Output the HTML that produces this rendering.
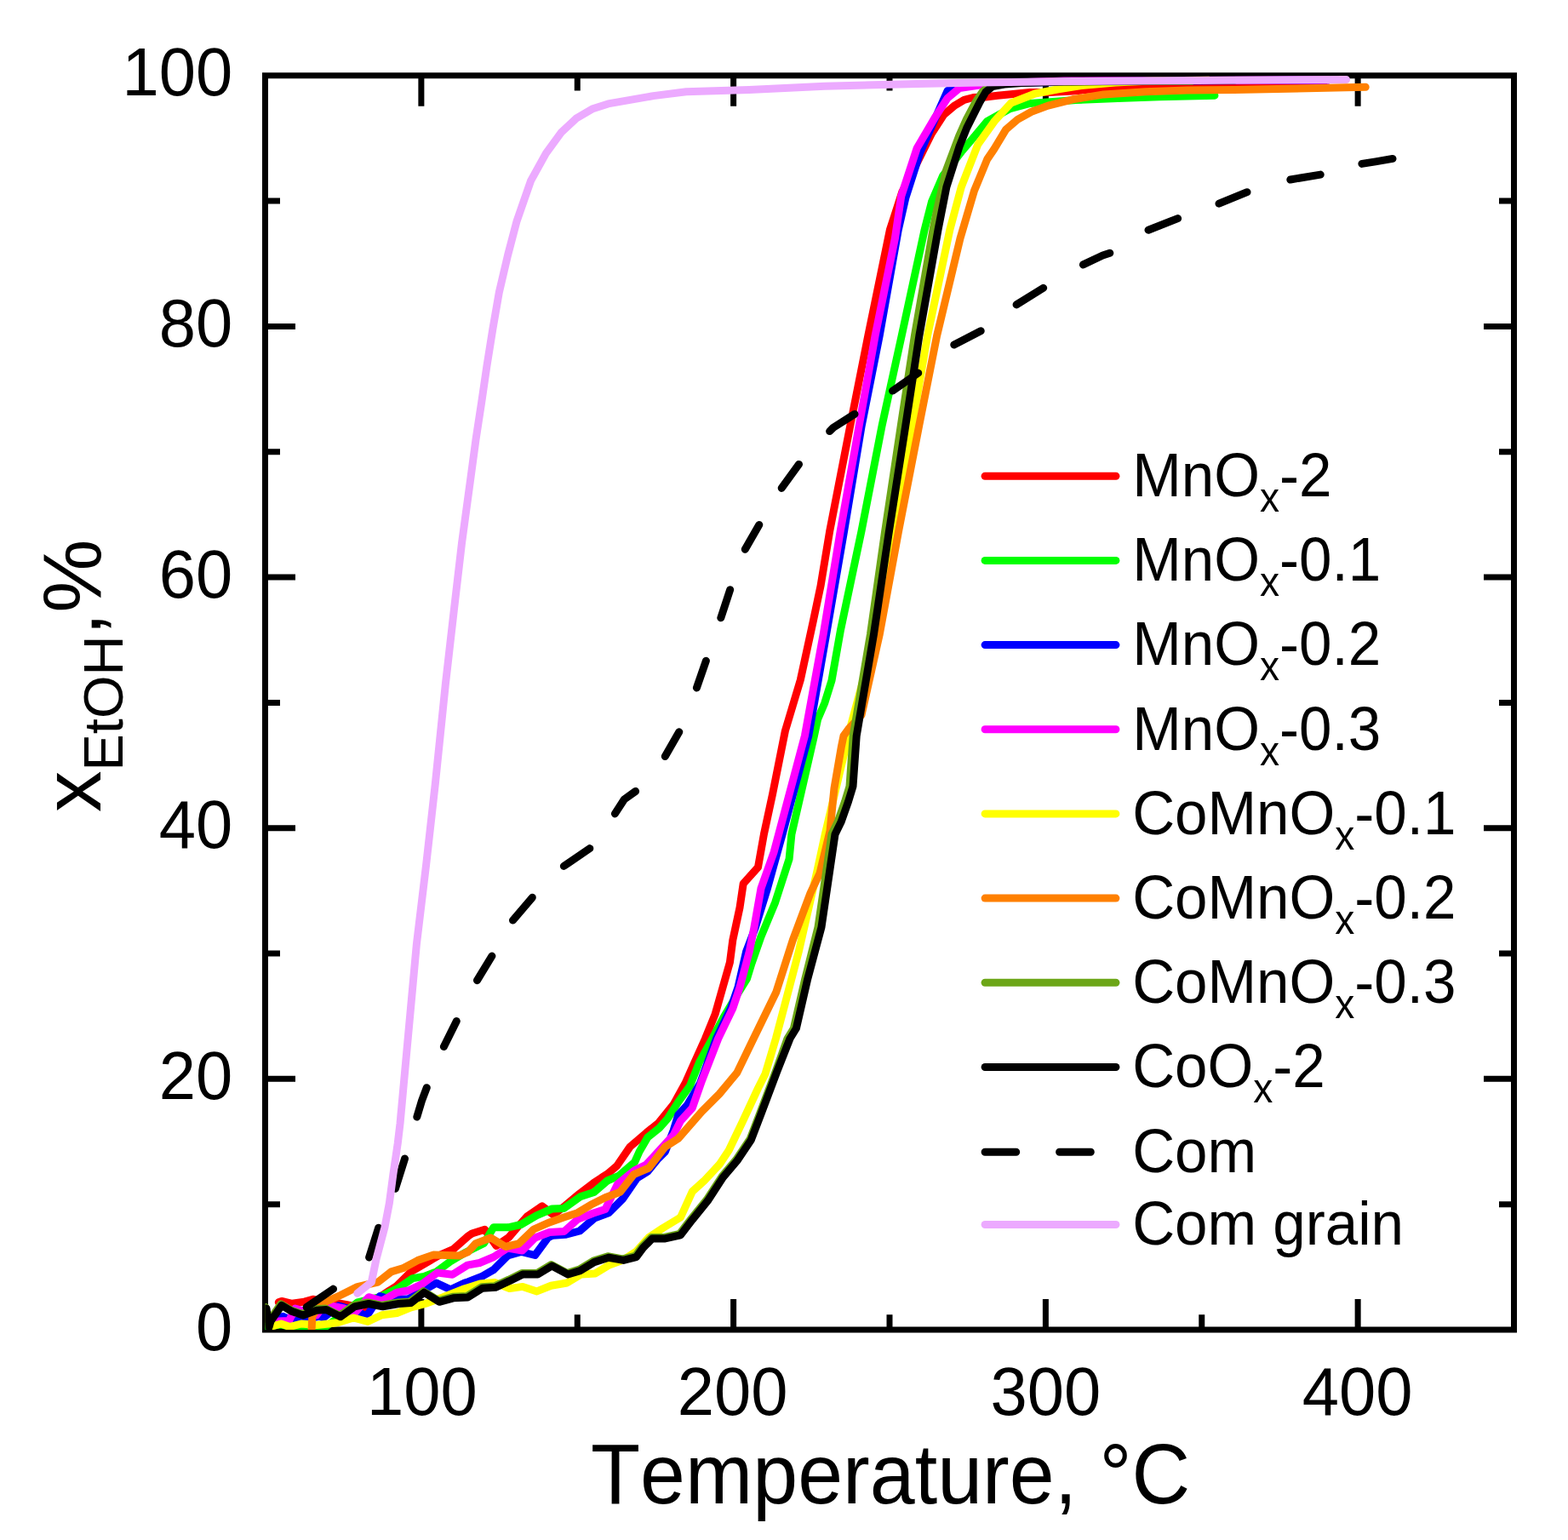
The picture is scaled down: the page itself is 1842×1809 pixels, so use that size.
<!DOCTYPE html><html><head><meta charset="utf-8"><title>Ethanol conversion vs temperature</title>
<style>html,body{margin:0;padding:0;background:#fff;}body{width:1842px;height:1809px;overflow:hidden;}svg{display:block;}text{font-family:"Liberation Sans",Arial,sans-serif;fill:#000;}</style></head><body>
<svg xmlns="http://www.w3.org/2000/svg" width="1842" height="1809" viewBox="0 0 1842 1809">
<rect x="0" y="0" width="1842" height="1809" fill="#fff"/>
<g stroke="#000" stroke-width="7" fill="none" stroke-linecap="butt">
<rect x="311.5" y="88.75" width="1467.0" height="1473.25" stroke-linejoin="miter"/>
<path d="M311.5,1414.67H329.0M1778.5,1414.67H1761.0M311.5,1267.35H347.0M1778.5,1267.35H1743.0M311.5,1120.03H329.0M1778.5,1120.03H1761.0M311.5,972.70H347.0M1778.5,972.70H1743.0M311.5,825.38H329.0M1778.5,825.38H1761.0M311.5,678.05H347.0M1778.5,678.05H1743.0M311.5,530.72H329.0M1778.5,530.72H1761.0M311.5,383.40H347.0M1778.5,383.40H1743.0M311.5,236.08H329.0M1778.5,236.08H1761.0M494.88,1562.0V1526.0M494.88,88.75V124.75M678.25,1562.0V1544.2M678.25,88.75V106.55M861.62,1562.0V1526.0M861.62,88.75V124.75M1045.00,1562.0V1544.2M1045.00,88.75V106.55M1228.38,1562.0V1526.0M1228.38,88.75V124.75M1411.75,1562.0V1544.2M1411.75,88.75V106.55M1595.12,1562.0V1526.0M1595.12,88.75V124.75"/>
</g>
<defs><clipPath id="pc"><rect x="311.5" y="88.75" width="1467.0" height="1473.25"/></clipPath></defs>
<g clip-path="url(#pc)" fill="none" stroke-width="9" stroke-linecap="round" stroke-linejoin="round">
<polyline stroke="#ff0000" points="327.3,1529.8 330.9,1528.4 343.1,1531.3 357.5,1529.1 368.3,1526.2 380.0,1530.4 388.8,1529.3 407.6,1532.6 426.4,1537.0 457.4,1516.0 466.2,1510.5 482.8,1493.9 496.1,1486.1 514.9,1475.1 532.6,1467.3 550.0,1452.0 554.4,1449.0 569.5,1444.3 583.0,1463.5 597.7,1453.5 609.9,1439.3 619.8,1428.4 636.9,1416.8 650.0,1426.8 664.0,1416.3 681.0,1402.0 697.4,1389.6 706.7,1383.4 713.8,1378.9 724.9,1369.3 740.1,1347.1 759.4,1330.6 773.2,1319.5 791.2,1297.4 805.0,1272.5 816.1,1247.6 828.5,1220.0 840.1,1191.4 857.4,1130.6 860.8,1104.4 869.1,1065.7 873.2,1038.0 890.5,1018.7 897.4,980.0 907.5,933.1 922.4,858.5 940.3,798.8 955.2,730.1 964.0,688.4 974.6,624.4 998.8,500.0 1019.8,394.4 1045.4,270.0 1060.0,225.0 1078.0,190.0 1094.5,156.7 1108.7,134.7 1121.7,123.8 1132.6,117.3 1143.4,114.5 1157.5,114.0 1172.0,112.2 1190.0,110.5 1210.0,108.6 1233.0,108.5 1260.0,107.0 1300.0,103.3 1357.0,98.8 1460.0,97.2 1555.0,96.8"/>
<polyline stroke="#00ff00" points="313.0,1558.0 330.0,1556.0 356.0,1561.0 379.0,1561.0 393.4,1550.7 420.0,1529.8 445.0,1524.0 468.4,1512.7 485.0,1501.6 498.3,1499.4 512.7,1493.9 529.3,1481.7 545.8,1471.8 568.5,1460.5 579.9,1441.7 597.0,1441.8 612.0,1438.5 630.2,1427.8 648.5,1420.0 662.2,1419.5 681.5,1405.8 697.7,1400.5 713.4,1387.0 727.0,1381.2 745.6,1365.1 751.1,1352.7 760.8,1336.1 774.6,1325.0 784.3,1314.0 796.7,1294.6 810.6,1275.3 821.6,1247.6 836.8,1220.0 850.0,1195.0 865.0,1170.0 877.4,1150.0 882.9,1132.0 894.0,1100.2 910.6,1060.2 927.1,1009.0 929.9,980.0 956.4,864.4 960.6,845.0 968.8,825.7 977.0,799.4 987.5,740.0 1011.9,624.4 1036.1,500.0 1059.2,394.4 1086.1,270.0 1094.5,237.0 1107.6,206.6 1129.3,178.4 1142.3,163.2 1159.7,142.5 1185.7,128.0 1210.0,121.5 1264.0,117.5 1312.9,115.5 1361.7,113.8 1426.9,112.2"/>
<polyline stroke="#0000ff" points="320.0,1552.0 332.3,1546.3 344.6,1552.1 360.0,1549.0 375.4,1546.3 380.0,1548.0 397.7,1533.7 415.4,1539.0 430.9,1545.8 446.3,1522.6 457.4,1525.9 479.5,1525.9 497.2,1516.0 512.7,1507.1 529.3,1514.9 545.8,1507.1 550.0,1505.8 566.6,1499.2 579.9,1491.5 596.4,1475.0 612.3,1470.5 628.5,1474.5 644.0,1453.5 649.7,1451.2 664.0,1450.3 681.0,1446.0 698.2,1431.0 715.0,1424.7 731.8,1408.0 748.3,1384.0 760.8,1376.2 773.2,1361.0 781.5,1352.7 791.2,1327.8 796.7,1309.8 807.8,1297.4 822.5,1272.5 841.5,1220.0 858.5,1184.5 867.0,1159.7 876.5,1118.2 887.2,1090.0 901.1,1045.0 919.1,980.0 949.8,864.4 970.7,745.0 991.5,624.4 1012.2,500.0 1033.2,394.4 1055.3,270.0 1063.8,232.7 1081.2,178.4 1113.0,106.7 1118.4,103.5 1160.0,98.0 1300.0,95.5 1560.0,94.0"/>
<polyline stroke="#ff00ff" points="326.6,1552.1 339.5,1551.4 346.7,1537.0 360.0,1541.0 371.9,1544.9 380.0,1533.7 386.2,1533.4 404.2,1537.0 416.5,1542.5 433.1,1523.7 448.5,1528.1 466.2,1518.2 479.5,1516.0 496.1,1508.2 513.8,1495.0 531.5,1497.2 549.2,1486.1 563.4,1483.5 580.0,1476.5 596.4,1466.0 613.5,1469.0 628.5,1454.0 645.5,1447.5 662.7,1446.5 679.0,1432.0 696.5,1425.2 711.0,1420.5 725.5,1391.0 737.2,1381.6 745.6,1374.8 759.4,1367.9 774.6,1351.3 791.2,1333.3 799.5,1316.7 813.3,1301.5 824.4,1269.8 843.7,1220.0 860.8,1184.5 869.1,1159.7 880.2,1118.2 885.7,1090.6 894.0,1043.6 909.2,1000.7 914.7,980.0 945.4,864.4 967.2,745.0 987.1,624.4 1009.2,500.0 1028.1,394.4 1051.4,280.0 1058.7,230.5 1077.2,174.0 1098.9,137.1 1113.0,115.4 1127.1,103.5 1164.0,98.0 1250.0,95.0 1560.0,94.0"/>
<polyline stroke="#ffff00" points="320.1,1557.8 330.2,1555.0 340.2,1558.6 353.9,1555.0 371.9,1556.4 386.2,1555.0 396.6,1553.6 415.2,1548.0 432.0,1552.5 448.5,1544.7 466.2,1542.5 482.8,1535.9 499.4,1531.5 520.0,1524.0 545.8,1513.8 550.0,1512.5 564.0,1508.0 581.0,1506.5 598.6,1513.6 614.1,1511.4 630.7,1516.9 647.3,1510.3 666.1,1507.0 682.7,1497.0 699.3,1495.9 715.8,1485.9 732.2,1480.0 747.5,1470.0 762.2,1453.6 778.8,1442.5 799.5,1430.0 813.3,1399.7 827.1,1387.2 845.1,1367.9 856.2,1351.3 872.7,1316.7 890.7,1278.0 899.0,1261.5 911.4,1220.0 923.0,1176.2 938.2,1118.2 960.3,1021.5 969.3,980.0 999.3,853.3 1030.0,740.0 1051.3,624.4 1071.4,500.0 1089.6,394.4 1115.8,270.0 1129.3,219.6 1148.8,169.7 1168.8,141.7 1187.7,121.0 1187.7,121.0 1216.0,110.0 1242.0,105.0 1270.0,100.5 1310.0,97.0 1357.0,94.8 1420.0,94.3"/>
<polyline stroke="#ff8000" points="366.1,1562.2 366.8,1546.3 375.4,1532.7 380.0,1530.5 399.9,1521.5 419.8,1511.6 444.1,1506.0 459.6,1493.9 474.0,1489.5 490.6,1480.6 509.4,1474.0 539.2,1475.1 550.0,1470.5 558.9,1460.6 576.6,1454.0 594.0,1464.5 609.3,1461.0 627.0,1444.0 646.0,1435.7 662.2,1430.0 678.5,1424.7 694.0,1415.3 711.0,1406.8 728.5,1400.2 744.4,1379.7 762.2,1372.0 781.5,1347.1 796.7,1337.5 824.4,1305.7 845.1,1285.0 865.8,1260.1 885.2,1220.0 911.9,1165.2 931.3,1104.4 952.0,1049.1 963.1,1025.6 975.0,976.0 979.9,926.6 988.2,878.2 991.0,864.4 997.0,856.0 1012.0,840.0 1033.3,745.0 1055.5,624.4 1079.7,500.0 1100.6,394.4 1128.0,280.0 1144.5,224.0 1159.7,187.1 1159.7,187.1 1168.0,174.9 1181.7,152.1 1195.4,140.4 1211.7,131.3 1231.2,124.1 1260.0,116.8 1296.6,110.9 1345.4,107.7 1394.3,106.1 1450.0,105.5 1604.2,102.3"/>
<polyline stroke="#6ca617" points="312.0,1535.5 315.0,1557.5 317.0,1550.5 329.9,1531.9 342.1,1539.1 355.0,1543.5 370.9,1537.7 382.4,1536.9 398.9,1545.3 415.5,1533.3 432.1,1530.0 448.7,1533.3 467.4,1530.0 481.8,1528.9 497.3,1516.7 515.0,1527.8 531.6,1523.3 548.5,1522.5 565.7,1511.7 581.0,1510.8 597.6,1503.2 613.1,1495.5 630.8,1495.5 647.4,1485.5 666.2,1495.5 680.6,1491.1 697.1,1481.1 714.0,1475.7 731.5,1478.9 746.5,1475.2 754.3,1464.5 765.3,1453.4 780.5,1453.4 798.5,1449.3 812.3,1431.3 830.3,1409.2 848.3,1381.6 864.8,1362.2 881.4,1337.4 892.5,1308.3 911.8,1257.2 925.0,1220.0 932.4,1208.0 945.4,1151.4 961.0,1089.2 977.0,980.0 984.2,965.3 992.5,941.8 998.0,923.8 1002.2,864.4 1022.5,745.0 1039.6,624.4 1058.3,500.0 1074.4,394.4 1096.0,270.0 1101.0,245.0 1111.5,200.0 1126.5,160.0 1135.4,140.0 1146.0,120.0 1154.0,108.0 1162.0,101.0 1180.0,97.5 1250.0,96.0 1400.0,95.3"/>
<polyline stroke="#000000" points="313.0,1537.0 316.0,1559.0 318.0,1552.0 330.9,1533.4 343.1,1540.6 356.0,1545.0 371.9,1539.2 383.4,1538.4 399.9,1546.8 416.5,1534.8 433.1,1531.5 449.7,1534.8 468.4,1531.5 482.8,1530.4 498.3,1518.2 516.0,1529.3 532.6,1524.8 549.5,1524.0 566.7,1513.2 582.0,1512.3 598.6,1504.7 614.1,1497.0 631.8,1497.0 648.4,1487.0 667.2,1497.0 681.6,1492.6 698.1,1482.6 715.0,1477.2 732.5,1480.4 747.5,1476.7 755.3,1466.0 766.3,1454.9 781.5,1454.9 799.5,1450.8 813.3,1432.8 831.3,1410.7 849.3,1383.1 865.8,1363.7 882.4,1338.9 893.5,1309.8 912.8,1258.7 928.0,1220.0 935.4,1208.0 948.4,1151.4 965.0,1089.2 981.0,980.0 988.2,965.3 996.5,941.8 1002.0,923.8 1006.2,864.4 1026.5,745.0 1044.4,624.4 1063.8,500.0 1079.9,394.4 1102.0,270.0 1111.9,219.6 1127.1,171.9 1135.8,150.1 1151.0,120.0 1158.0,108.0 1166.0,101.5 1180.0,99.0 1200.0,97.5 1250.0,96.0 1350.0,95.0 1450.0,94.3"/>
<path stroke="#000" d="M360.1,1535.5 L391.5,1514.1M433.6,1477.0 L444.7,1442.2M464.4,1396.3 L475.5,1361.1M489.8,1312.0 L495.5,1293.0 L501.3,1277.7M521.4,1229.5 L536.3,1199.6M560.5,1151.7 L577.9,1123.0M602.5,1081.1 L625.3,1054.3M662.4,1017.4 L692.8,996.6M722.4,955.9 L733.5,938.8 L746.6,929.5M781.3,888.6 L797.8,859.8M818.4,807.9 L829.4,776.3M846.8,725.8 L857.7,692.7M875.3,645.3 L891.8,616.5M918.2,573.4 L938.5,545.4M974.6,506.6 L979.0,502.2 L1004.0,486.4M1048.6,459.1 L1078.7,438.1M1120.8,404.9 L1152.2,388.8M1194.1,357.9 L1225.7,338.3M1272.4,310.9 L1295.4,300.0 L1303.8,297.3M1349.0,270.2 L1383.6,256.6M1432.0,239.2 L1465.0,225.7M1515.8,211.0 L1551.2,205.1M1599.9,192.4 L1615.9,189.9 L1636.0,186.4"/>
<polyline stroke="#ecaaff" points="419.8,1519.3 436.4,1506.0 441.9,1479.5 451.9,1441.9 457.4,1413.2 461.8,1380.0 467.2,1343.4 470.0,1320.0 489.4,1109.0 500.6,1016.0 511.4,920.0 523.4,803.2 533.6,714.3 542.5,638.0 553.1,560.0 559.1,515.6 565.7,472.5 572.0,429.3 578.9,386.2 586.4,343.1 596.5,300.0 607.1,259.7 623.7,212.1 641.4,180.1 659.1,155.8 676.8,139.2 695.6,128.1 714.4,121.9 767.5,112.6 806.1,107.8 880.0,105.5 968.6,101.3 1077.2,98.5 1150.0,97.0 1260.0,95.5 1440.0,94.3 1581.5,93.5"/>
</g>
<g font-size="78px" text-anchor="end">
<text transform="translate(273.3,1585.60) scale(0.997,1.026)">0</text>
<text transform="translate(273.3,1290.95) scale(0.997,1.026)">20</text>
<text transform="translate(273.3,996.30) scale(0.997,1.026)">40</text>
<text transform="translate(273.3,701.65) scale(0.997,1.026)">60</text>
<text transform="translate(273.3,407.00) scale(0.997,1.026)">80</text>
<text transform="translate(273.3,112.35) scale(0.997,1.026)">100</text>
</g>
<g font-size="78px" text-anchor="middle">
<text transform="translate(495.88,1662) scale(0.997,1.026)">100</text>
<text transform="translate(860.62,1662) scale(0.997,1.026)">200</text>
<text transform="translate(1228.38,1662) scale(0.997,1.026)">300</text>
<text transform="translate(1594.53,1662) scale(0.997,1.026)">400</text>
</g>
<text transform="translate(694,1766.4) scale(0.981,1.035)" font-size="97px" style="font-kerning:none">Temperature, °C</text>
<text transform="translate(118.2,954) rotate(-90)" font-size="97px" style="font-kerning:none">x<tspan font-size="65px" dy="25.8">EtOH</tspan><tspan dy="-25.8">,%</tspan></text>
<g stroke-width="9" stroke-linecap="round" fill="none">
<path stroke="#ff0000" d="M1157.1,559.2H1310.9"/>
<path stroke="#00ff00" d="M1157.1,658.4H1310.9"/>
<path stroke="#0000ff" d="M1157.1,757.6H1310.9"/>
<path stroke="#ff00ff" d="M1157.1,856.7H1310.9"/>
<path stroke="#ffff00" d="M1157.1,955.9H1310.9"/>
<path stroke="#ff8000" d="M1157.1,1055.1H1310.9"/>
<path stroke="#6ca617" d="M1157.1,1154.3H1310.9"/>
<path stroke="#000000" d="M1157.1,1253.5H1310.9"/>
<path stroke="#000" d="M1157.1,1353.2H1193.7M1244.6,1353.2H1281.3"/>
<path stroke="#ecaaff" d="M1157.1,1438.5H1310.9"/>
</g>
<g font-size="72px" style="font-kerning:none">
<text transform="translate(1330.2,583.0) scale(0.96,1)">MnO<tspan font-size="48px" dy="18">x</tspan><tspan dy="-18">-2</tspan></text>
<text transform="translate(1330.2,682.2) scale(0.96,1)">MnO<tspan font-size="48px" dy="18">x</tspan><tspan dy="-18">-0.1</tspan></text>
<text transform="translate(1330.2,781.4) scale(0.96,1)">MnO<tspan font-size="48px" dy="18">x</tspan><tspan dy="-18">-0.2</tspan></text>
<text transform="translate(1330.2,880.5) scale(0.96,1)">MnO<tspan font-size="48px" dy="18">x</tspan><tspan dy="-18">-0.3</tspan></text>
<text transform="translate(1330.2,979.7) scale(0.96,1)">CoMnO<tspan font-size="48px" dy="18">x</tspan><tspan dy="-18">-0.1</tspan></text>
<text transform="translate(1330.2,1078.9) scale(0.96,1)">CoMnO<tspan font-size="48px" dy="18">x</tspan><tspan dy="-18">-0.2</tspan></text>
<text transform="translate(1330.2,1178.1) scale(0.96,1)">CoMnO<tspan font-size="48px" dy="18">x</tspan><tspan dy="-18">-0.3</tspan></text>
<text transform="translate(1330.2,1277.3) scale(0.96,1)">CoO<tspan font-size="48px" dy="18">x</tspan><tspan dy="-18">-2</tspan></text>
<text transform="translate(1330.2,1377.0) scale(0.96,1)">Com</text>
<text transform="translate(1330.2,1462.3) scale(0.96,1)">Com grain</text>
</g>
</svg></body></html>
